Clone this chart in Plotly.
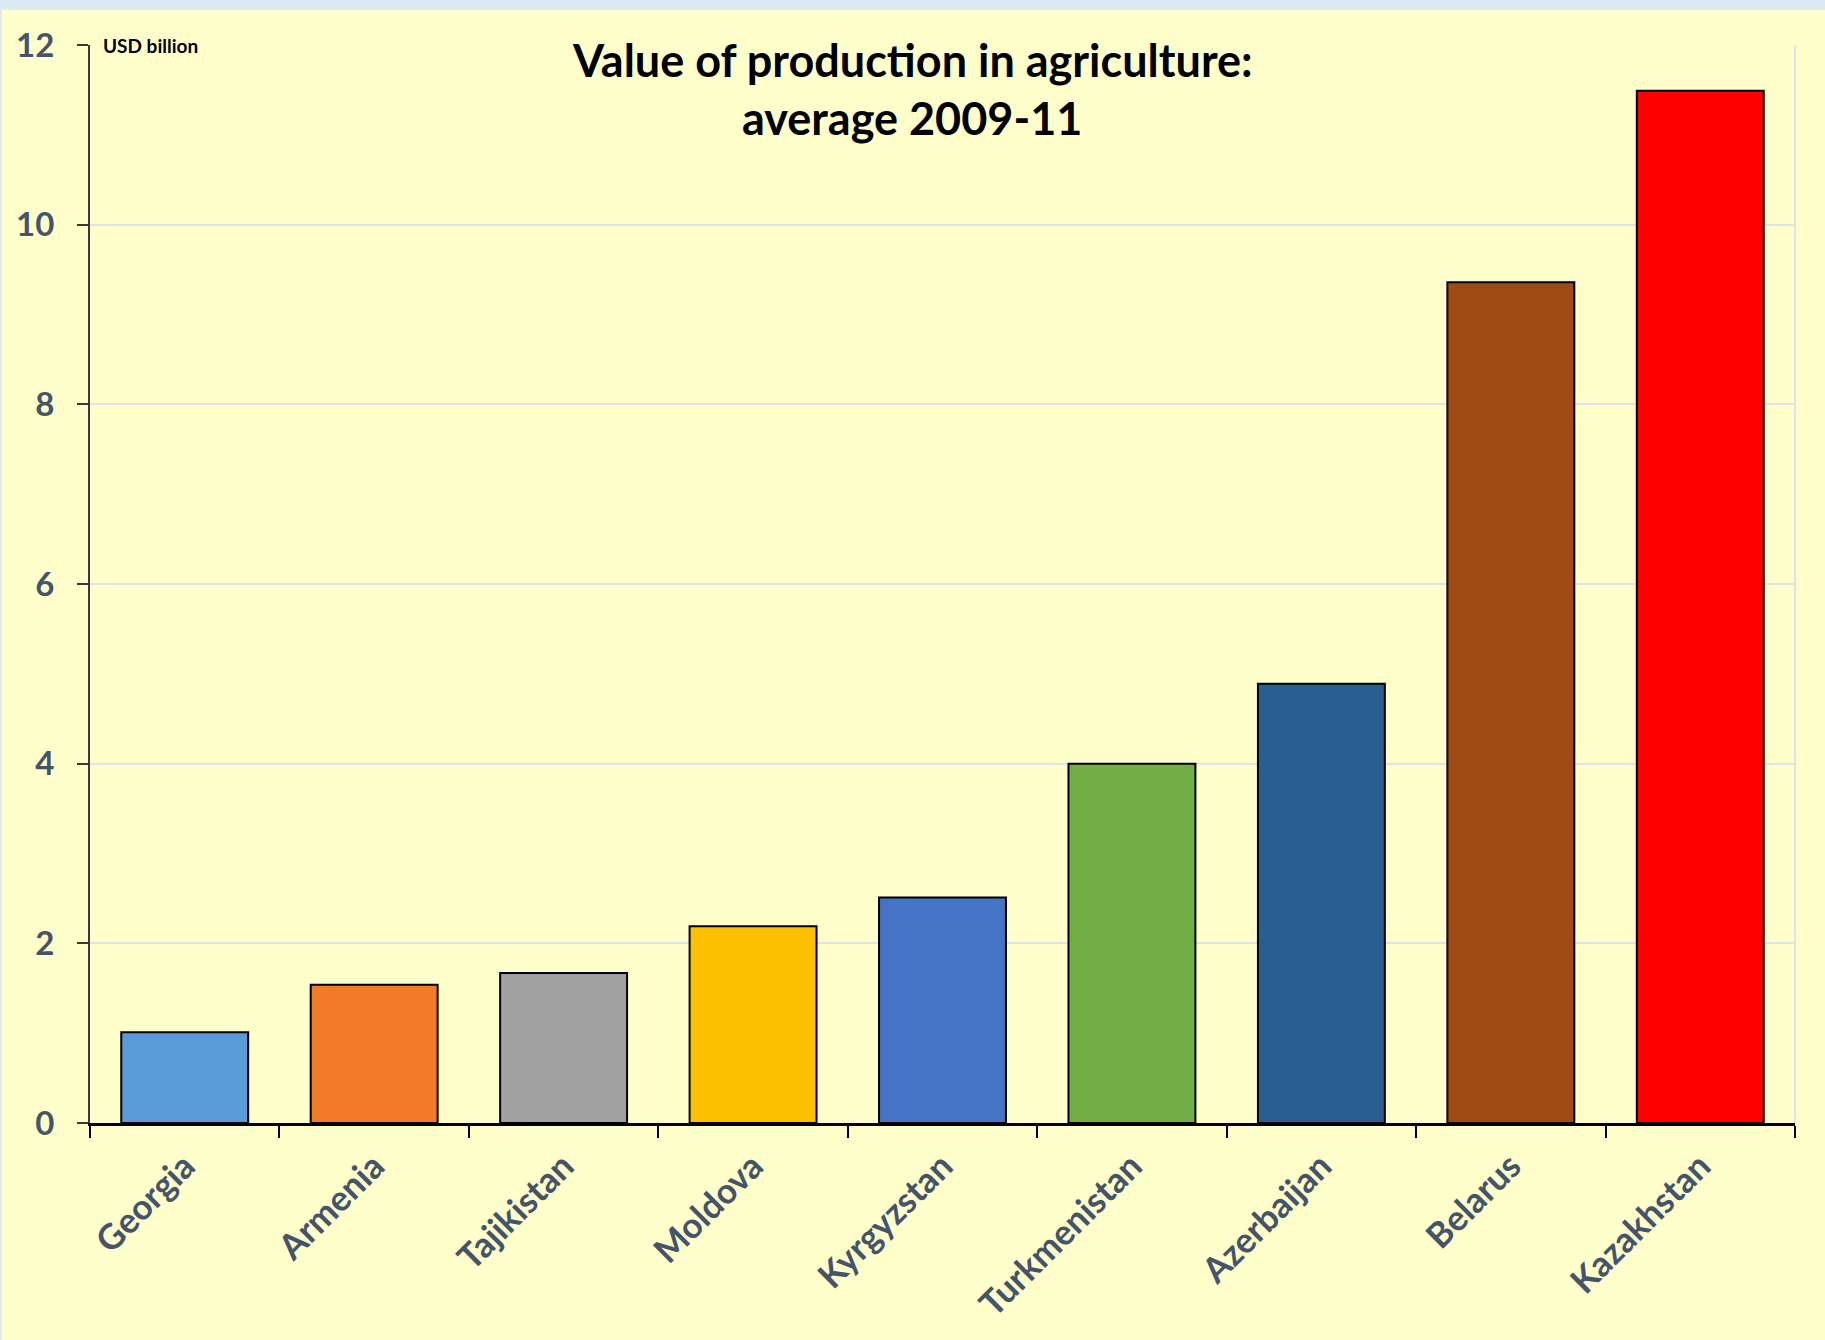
import plotly.graph_objects as go

countries = ["Georgia", "Armenia", "Tajikistan", "Moldova", "Kyrgyzstan",
             "Turkmenistan", "Azerbaijan", "Belarus", "Kazakhstan"]
values = [1.01, 1.54, 1.67, 2.19, 2.51, 4.0, 4.89, 9.36, 11.49]
colors = ["#589bd8", "#f27b27", "#a0a0a0", "#fbc100", "#4573c6",
          "#72ae45", "#275f93", "#a24a14", "#ff0000"]
y_ticks = [0, 2, 4, 6, 8, 10, 12]

W, H = 1825, 1340
L, R, T, B = 90, 30, 45, 217
PW, PH = W - L - R, H - T - B

fig = go.Figure()
fig.add_trace(go.Bar(
    x=countries, y=values,
    marker=dict(color=colors, line=dict(color="#000000", width=2)),
    hoverinfo="x+y",
))

label_font = dict(family="Lato, 'Open Sans', sans-serif", size=35, color="#44546a", weight="bold")

fig.update_layout(
    width=W, height=H,
    margin=dict(l=L, r=R, t=T, b=B, pad=0),
    paper_bgcolor="#ffffcc",
    plot_bgcolor="#ffffcc",
    bargap=0.33,
    showlegend=False,
    xaxis=dict(
        type="category",
        showline=True, linecolor="#000000", linewidth=2.5,
        ticks="outside", ticklen=12, tickwidth=2, tickcolor="#000000",
        tickson="boundaries",
        tickangle=-45,
        tickfont=label_font,
        ticklabelstandoff=6,
        showgrid=False, zeroline=False,
    ),
    yaxis=dict(
        range=[0, 12],
        tickvals=y_ticks,
        showline=True, linecolor="#3a3a3a", linewidth=2,
        ticks="outside", ticklen=11, tickwidth=2, tickcolor="#3a3a3a",
        tickfont=dict(family="Lato, 'Open Sans', sans-serif", size=33, color="#44546a", weight="bold"),
        ticklabelstandoff=16,
        showgrid=True, gridcolor="#dde3ea", gridwidth=2,
        zeroline=False,
    ),
    shapes=[
        dict(type="rect", xref="paper", yref="paper", x0=-L / PW, x1=1 + R / PW,
             y0=1 + (T - 10) / PH, y1=1 + T / PH,
             fillcolor="#dbeaf4", line=dict(width=0), layer="below"),
        dict(type="rect", xref="paper", yref="paper", x0=-L / PW, x1=-(L - 2) / PW,
             y0=-B / PH, y1=1 + T / PH,
             fillcolor="#dbeaf4", line=dict(width=0), layer="below"),
        dict(type="line", xref="paper", yref="paper", x0=1, x1=1, y0=0, y1=1,
             line=dict(color="#dde3ea", width=2), layer="below"),
    ],
    annotations=[
        dict(text="USD billion", xref="paper", yref="y", x=(101 - L) / PW, y=12,
             xanchor="left", yanchor="middle", showarrow=False,
             font=dict(family="Lato, sans-serif", size=19, color="#000000", weight="bold")),
        dict(text="Value of production in agriculture:", xref="paper", yref="paper",
             x=(912 - L) / PW, y=(1123 - 60) / PH,
             xanchor="center", yanchor="middle", showarrow=False,
             font=dict(family="Lato, sans-serif", size=45, color="#000000", weight="bold")),
        dict(text="average 2009-11", xref="paper", yref="paper",
             x=(912 - L) / PW, y=(1123 - 118) / PH,
             xanchor="center", yanchor="middle", showarrow=False,
             font=dict(family="Lato, sans-serif", size=45, color="#000000", weight="bold")),
    ],
)

fig.write_html("out.html")
